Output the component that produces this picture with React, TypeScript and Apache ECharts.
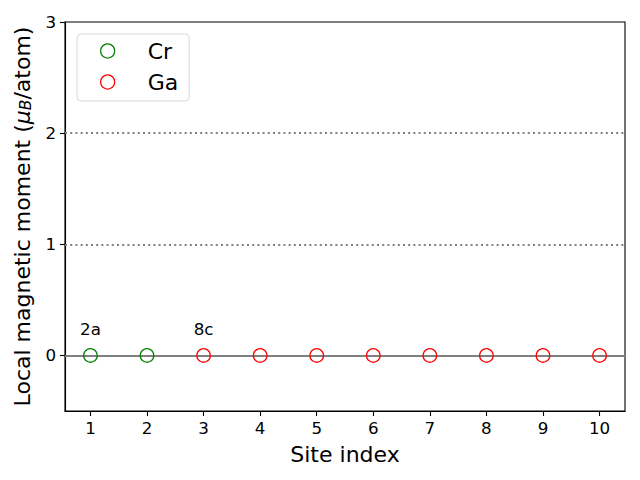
import React, { useEffect, useRef } from "react";
import * as echarts from "echarts";

const siteIndex = [1, 2, 3, 4, 5, 6, 7, 8, 9, 10];
const crSites = [1, 2];
const crMoments = [0, 0];
const gaSites = [3, 4, 5, 6, 7, 8, 9, 10];
const gaMoments = [0, 0, 0, 0, 0, 0, 0, 0];
const yTicks = [0, 1, 2, 3];
const refLevels = [1, 2];
const annotations = [
  { label: "2a", x: 1, y: 0.24 },
  { label: "8c", x: 3, y: 0.24 },
];

export default function App() {
  const ref = useRef<HTMLDivElement>(null);
  useEffect(() => {
    if (!ref.current) return;
    const chart = echarts.init(ref.current, null, { renderer: "svg" });
    const font = "DejaVu Sans";
    chart.setOption({
      animation: false,
      textStyle: { fontFamily: font },
      grid: {
        left: 65,
        right: 15,
        top: 22,
        bottom: 69,
        show: true,
        borderColor: "#000",
        borderWidth: 1.1,
        backgroundColor: "transparent",
      },
      legend: {
        data: ["Cr", "Ga"],
        orient: "vertical",
        left: 77,
        top: 34,
        padding: [6, 11, 8, 23],
        itemGap: 9,
        itemWidth: 14,
        itemHeight: 14,
        backgroundColor: "#fff",
        borderColor: "#d9d9d9",
        borderWidth: 1,
        borderRadius: 4,
        itemStyle: { borderWidth: 1.3, opacity: 1 },
        textStyle: { fontSize: 22, color: "#000", fontFamily: font, padding: [0, 0, 0, 28] },
      },
      xAxis: {
        type: "value",
        min: 0.55,
        max: 10.45,
        name: "Site index",
        nameLocation: "middle",
        nameGap: 32,
        nameTextStyle: { fontSize: 22, color: "#000", fontFamily: font },
        axisLine: { show: true, onZero: false, lineStyle: { color: "#000", width: 1.1 } },
        axisTick: { show: true, inside: false, length: 5, customValues: siteIndex, lineStyle: { color: "#000", width: 1.1 } },
        axisLabel: { customValues: siteIndex, fontSize: 16.7, color: "#000", margin: 8, fontFamily: font },
        splitLine: { show: false },
      },
      yAxis: {
        type: "value",
        min: -0.5,
        max: 3,
        name: "{n|Local magnetic moment (}{mu|μ}{sub|B}{n|/atom)}",
        nameLocation: "middle",
        nameRotate: 90,
        nameGap: 28,
        nameTextStyle: {
          fontSize: 22,
          color: "#000",
          rich: {
            n: { fontSize: 22, fontFamily: font, color: "#000" },
            mu: { fontSize: 22, fontFamily: font, fontStyle: "italic", color: "#000" },
            sub: { fontSize: 15.5, fontFamily: font, fontStyle: "italic", color: "#000", verticalAlign: "bottom", padding: [8, 0, 0, 0] },
          },
        },
        axisLine: { show: true, onZero: false, lineStyle: { color: "#000", width: 1.1 } },
        axisTick: { show: true, inside: false, length: 5, customValues: yTicks, lineStyle: { color: "#000", width: 1.1 } },
        axisLabel: { customValues: yTicks, fontSize: 16.7, color: "#000", margin: 9, fontFamily: font },
        splitLine: { show: false },
      },
      series: [
        {
          name: "ref",
          type: "line",
          data: [],
          markLine: {
            silent: true,
            symbol: "none",
            label: { show: false },
            data: [
              ...refLevels.map((v) => ({ yAxis: v, lineStyle: { color: "#808080", type: [2, 3.2], width: 2, opacity: 1 } })),
              { yAxis: 0, lineStyle: { color: "#808080", type: "solid", width: 2, opacity: 1 } },
            ],
          },
        },
        {
          name: "Cr",
          type: "scatter",
          symbol: "circle",
          symbolSize: 13.5,
          itemStyle: { color: "rgba(0,0,0,0)", borderColor: "#008000", borderWidth: 1.3, opacity: 1 },
          data: crSites.map((x, i) => [x, crMoments[i]]),
          z: 5,
        },
        {
          name: "Ga",
          type: "scatter",
          symbol: "circle",
          symbolSize: 13.5,
          itemStyle: { color: "rgba(0,0,0,0)", borderColor: "#ff0000", borderWidth: 1.3, opacity: 1 },
          data: gaSites.map((x, i) => [x, gaMoments[i]]),
          z: 5,
        },
        {
          name: "annot",
          type: "scatter",
          symbolSize: 0,
          silent: true,
          itemStyle: { opacity: 1 },
          data: annotations.map((a) => ({ value: [a.x, a.y], name: a.label })),
          label: {
            show: true,
            position: "inside",
            formatter: (p: any) => p.name,
            fontSize: 16.7,
            color: "#000",
            opacity: 1,
            fontFamily: font,
          },
        },
      ],
    });
    return () => chart.dispose();
  }, []);
  return <div ref={ref} style={{ width: 640, height: 480, position: "absolute", left: 0, top: 0 }} />;
}
